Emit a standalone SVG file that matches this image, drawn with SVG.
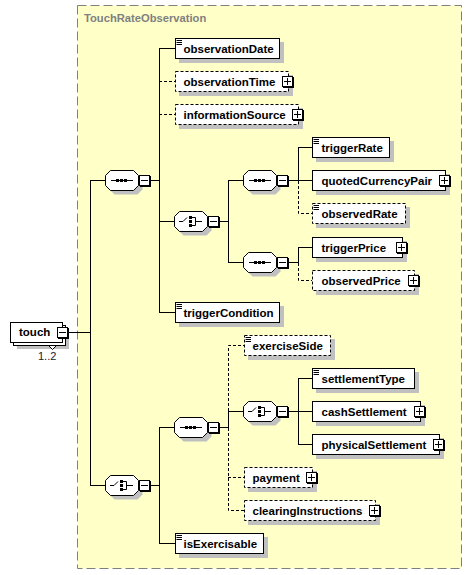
<svg xmlns="http://www.w3.org/2000/svg" xmlns:xlink="http://www.w3.org/1999/xlink" width="473" height="575" viewBox="0 0 473 575">
<style>
.bg{fill:#fff}
.sh{fill:#c0c0c0}
.box{fill:#fff;stroke:#000;stroke-width:1}
.opt{stroke-dasharray:3 2}
.ln{fill:none;stroke:#000;stroke-width:1}
.dl{stroke-dasharray:3 2}
.ic{fill:none;stroke:#000;stroke-width:1}
.t{font-family:"Liberation Sans",Arial,sans-serif;font-weight:bold;font-size:11.5px;fill:#000}
.title{font-family:"Liberation Sans",Arial,sans-serif;font-weight:bold;font-size:11.2px;fill:#808080}
.occ{font-family:"Liberation Sans",Arial,sans-serif;font-size:11px;fill:#202030}
</style>
<defs>
<g id="btnBase">
<rect x="0.5" y="0.5" width="10" height="10" fill="#fff" stroke="#000"/>
<path d="M11.5 1V12M1 11.5H12" fill="none" stroke="#000"/>
</g>
<g id="minus">
<use xlink:href="#btnBase"/>
<path d="M2 5.5H9" fill="none" stroke="#000"/>
</g>
<g id="plus">
<use xlink:href="#btnBase"/>
<path d="M2 5.5H9M5.5 2V9" fill="none" stroke="#000"/>
</g>
<path id="oct" d="M5.5 0.5H28.5L33.5 5.5V15.5L28.5 20.5H5.5L0.5 15.5V5.5Z"/>
<g id="seqShape">
<use xlink:href="#oct" x="4" y="4" class="sh"/>
<use xlink:href="#oct" fill="#fff" stroke="#000"/>
<path d="M6 10.5H28" fill="none" stroke="#000"/>
<rect x="11" y="9" width="3" height="3" fill="#000"/>
<rect x="15" y="9" width="3" height="3" fill="#000"/>
<rect x="19" y="9" width="3" height="3" fill="#000"/>
<use xlink:href="#minus" x="34" y="5"/>
</g>
<g id="choiceShape">
<use xlink:href="#oct" x="4" y="4" class="sh"/>
<use xlink:href="#oct" fill="#fff" stroke="#000"/>
<path d="M5 10.5H9L13 6.5M18 6.5H21.5V14.5H18M21.5 10.5H28" fill="none" stroke="#000"/>
<rect x="15" y="5" width="3" height="3" fill="#000"/>
<rect x="15" y="9" width="3" height="3" fill="#000"/>
<rect x="15" y="13" width="3" height="3" fill="#000"/>
<use xlink:href="#minus" x="34" y="5"/>
</g>
<path id="icon" d="M1.5 2.5H7M1.5 4.5H7M1.5 6.5H7" fill="none" stroke="#000"/>
</defs>

<rect x="0" y="0" width="473" height="575" fill="#fff"/>

<g id="TouchRateObservation">
<rect x="77.5" y="5.5" width="384" height="563" fill="#ffffc8" stroke="#808080" stroke-dasharray="9 4"/>
<text class="title" x="84" y="22">TouchRateObservation</text>
</g>

<g id="connectors" class="ln">
<path d="M68 332.5H90.5M90.5 180V486M90 180.5H105M90 485.5H105"/>
<path d="M151 180.5H159.5M159.5 48V313M159 48.5H175M159 221.5H174M159 312.5H175"/>
<path class="dl" d="M159 81.5H175M159 114.5H175"/>
<path d="M220 221.5H228.5M228.5 180V263M228 180.5H243M228 262.5H243"/>
<path d="M289 180.5H298.5M298.5 147V181M298 147.5H312M298 180.5H312"/>
<path class="dl" d="M298.5 181V213.5H312"/>
<path d="M289 262.5H298.5M298.5 247V263M298 247.5H312"/>
<path class="dl" d="M298.5 263V280.5H312"/>
<path d="M151 485.5H159.5M159.5 427V544M159 427.5H174M159 543.5H175"/>
<path d="M220 427.5H228.5M228.5 411V428M228 411.5H243"/>
<path class="dl" d="M228.5 411V345.5H244M228.5 428V510.5H244M228 477.5H244"/>
<path d="M289 411.5H298.5M298.5 378V445M298 378.5H312M298 411.5H312M298 444.5H312"/>
</g>

<g id="touch">
<rect class="sh" x="17" y="329" width="52" height="20"/>
<rect class="box" x="13.5" y="325.5" width="52" height="20"/>
<rect class="box" x="10.5" y="322.5" width="52" height="20"/>
<path d="M48.5 345.5H56.5L52.5 349.5Z" fill="#fff" stroke="#000"/>
<use xlink:href="#minus" x="57" y="327"/>
<text class="t" x="19" y="336">touch</text>
<text class="occ" x="38" y="360">1..2</text>
</g>

<g id="sequence1"><use xlink:href="#seqShape" x="105" y="170"/></g>
<g id="choice1"><use xlink:href="#choiceShape" x="174" y="211"/></g>
<g id="sequence2"><use xlink:href="#seqShape" x="243" y="170"/></g>
<g id="sequence3"><use xlink:href="#seqShape" x="243" y="252"/></g>
<g id="choice2"><use xlink:href="#choiceShape" x="105" y="475"/></g>
<g id="sequence4"><use xlink:href="#seqShape" x="174" y="417"/></g>
<g id="choice3"><use xlink:href="#choiceShape" x="243" y="401"/></g>

<g id="observationDate">
<rect class="sh" x="179" y="42" width="105" height="21"/>
<rect class="box" x="175.5" y="38.5" width="104" height="20"/>
<use xlink:href="#icon" x="175" y="38"/>
<text class="t" x="183.5" y="52.5">observationDate</text>
</g>
<g id="observationTime">
<rect class="sh" x="179" y="75" width="114" height="21"/>
<rect class="box opt" x="175.5" y="71.5" width="113" height="20"/>
<text class="t" x="183.5" y="85.5">observationTime</text>
<use xlink:href="#plus" x="282" y="76"/>
</g>
<g id="informationSource">
<rect class="sh" x="179" y="108" width="124" height="21"/>
<rect class="box opt" x="175.5" y="104.5" width="123" height="20"/>
<text class="t" x="183.5" y="118.5">informationSource</text>
<use xlink:href="#plus" x="292" y="109"/>
</g>
<g id="triggerCondition">
<rect class="sh" x="179" y="306" width="105" height="21"/>
<rect class="box" x="175.5" y="302.5" width="104" height="20"/>
<use xlink:href="#icon" x="175" y="302"/>
<text class="t" x="183.5" y="316.5">triggerCondition</text>
</g>
<g id="triggerRate">
<rect class="sh" x="316" y="141" width="78" height="21"/>
<rect class="box" x="312.5" y="137.5" width="77" height="20"/>
<use xlink:href="#icon" x="312" y="137"/>
<text class="t" x="321.5" y="151.5">triggerRate</text>
</g>
<g id="quotedCurrencyPair">
<rect class="sh" x="316" y="174" width="134" height="21"/>
<rect class="box" x="312.5" y="170.5" width="133" height="20"/>
<text class="t" x="321.5" y="184.5">quotedCurrencyPair</text>
<use xlink:href="#plus" x="439" y="175"/>
</g>
<g id="observedRate">
<rect class="sh" x="316" y="207" width="94" height="21"/>
<rect class="box opt" x="312.5" y="203.5" width="93" height="20"/>
<use xlink:href="#icon" x="312" y="203"/>
<text class="t" x="321.5" y="217.5">observedRate</text>
</g>
<g id="triggerPrice">
<rect class="sh" x="316" y="241" width="91" height="21"/>
<rect class="box" x="312.5" y="237.5" width="90" height="20"/>
<text class="t" x="321.5" y="251.5">triggerPrice</text>
<use xlink:href="#plus" x="396" y="242"/>
</g>
<g id="observedPrice">
<rect class="sh" x="316" y="274" width="103" height="21"/>
<rect class="box opt" x="312.5" y="270.5" width="102" height="20"/>
<text class="t" x="321.5" y="284.5">observedPrice</text>
<use xlink:href="#plus" x="408" y="275"/>
</g>
<g id="exerciseSide">
<rect class="sh" x="248" y="339" width="87" height="21"/>
<rect class="box opt" x="244.5" y="335.5" width="86" height="20"/>
<use xlink:href="#icon" x="244" y="335"/>
<text class="t" x="252.5" y="349.5">exerciseSide</text>
</g>
<g id="settlementType">
<rect class="sh" x="316" y="372" width="103" height="21"/>
<rect class="box" x="312.5" y="368.5" width="102" height="20"/>
<use xlink:href="#icon" x="312" y="368"/>
<text class="t" x="321.5" y="382.5">settlementType</text>
</g>
<g id="cashSettlement">
<rect class="sh" x="316" y="405" width="109" height="21"/>
<rect class="box" x="312.5" y="401.5" width="108" height="20"/>
<text class="t" x="321.5" y="415.5">cashSettlement</text>
<use xlink:href="#plus" x="414" y="406"/>
</g>
<g id="physicalSettlement">
<rect class="sh" x="316" y="438" width="128" height="21"/>
<rect class="box" x="312.5" y="434.5" width="127" height="20"/>
<text class="t" x="321.5" y="448.5">physicalSettlement</text>
<use xlink:href="#plus" x="433" y="439"/>
</g>
<g id="payment">
<rect class="sh" x="248" y="471" width="69" height="21"/>
<rect class="box opt" x="244.5" y="467.5" width="68" height="20"/>
<text class="t" x="252.5" y="481.5">payment</text>
<use xlink:href="#plus" x="306" y="472"/>
</g>
<g id="clearingInstructions">
<rect class="sh" x="248" y="504" width="132" height="21"/>
<rect class="box opt" x="244.5" y="500.5" width="131" height="20"/>
<text class="t" x="252.5" y="514.5">clearingInstructions</text>
<use xlink:href="#plus" x="369" y="505"/>
</g>
<g id="isExercisable">
<rect class="sh" x="179" y="537" width="89" height="21"/>
<rect class="box" x="175.5" y="533.5" width="88" height="20"/>
<use xlink:href="#icon" x="175" y="533"/>
<text class="t" x="183.5" y="547.5">isExercisable</text>
</g>
</svg>
